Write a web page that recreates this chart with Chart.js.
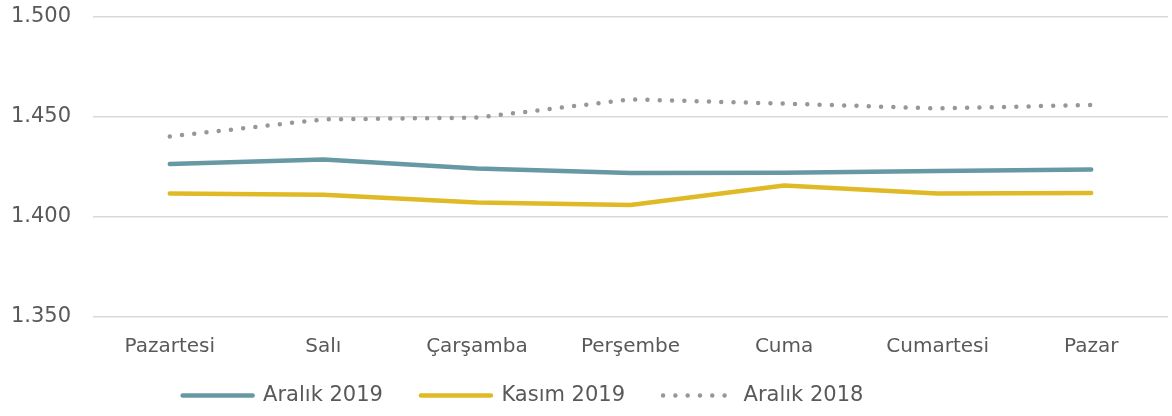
<!DOCTYPE html>
<html>
<head>
<meta charset="utf-8">
<script src="https://cdn.jsdelivr.net/npm/chart.js@4/dist/chart.umd.min.js"></script>
<style>
  html, body { margin: 0; padding: 0; background: #ffffff; }
  #wrap { width: 1172px; height: 416px; position: relative; }
</style>
</head>
<body>
<div id="wrap"><canvas id="c"></canvas></div>
<script>
const categories = ['Pazartesi', 'Salı', 'Çarşamba', 'Perşembe', 'Cuma', 'Cumartesi', 'Pazar'];
const aralik2019 = [1.4265, 1.4288, 1.4243, 1.4220, 1.4221, 1.4230, 1.4238];
const kasim2019 = [1.4118, 1.4111, 1.4072, 1.4060, 1.4158, 1.4118, 1.4120];
const aralik2018 = [1.4403, 1.4488, 1.4497, 1.4588, 1.4567, 1.4543, 1.4560];
const yTicks = [1.35, 1.40, 1.45, 1.50];

const FONT = "'DejaVu Sans', sans-serif";
const TEXT = '#595959';

const legendShift = {
  id: 'legendShift',
  afterLayout(chart) {
    const lg = chart.legend;
    if (lg) { lg.left = -4; lg.right = 1050; lg.top = 347; }
  }
};

new Chart(document.getElementById('c'), {
  type: 'line',
  data: {
    labels: categories,
    datasets: [
      {
        label: 'Aralık 2019',
        data: aralik2019,
        borderColor: '#6799a4',
        backgroundColor: '#6799a4',
        borderWidth: 4.5,
        borderCapStyle: 'round',
        borderJoinStyle: 'round',
        pointRadius: 0,
        tension: 0
      },
      {
        label: 'Kasım 2019',
        data: kasim2019,
        borderColor: '#e0b926',
        backgroundColor: '#e0b926',
        borderWidth: 4.5,
        borderCapStyle: 'round',
        borderJoinStyle: 'round',
        pointRadius: 0,
        tension: 0
      },
      {
        label: 'Aralık 2018',
        data: aralik2018,
        borderColor: '#979797',
        backgroundColor: '#979797',
        borderWidth: 4.5,
        borderDash: [0, 12.3],
        borderCapStyle: 'round',
        borderJoinStyle: 'round',
        pointRadius: 0,
        tension: 0
      }
    ]
  },
  options: {
    responsive: true,
    maintainAspectRatio: false,
    animation: false,
    layout: { padding: { top: 17, right: 4, left: 0, bottom: 0 } },
    plugins: {
      tooltip: { enabled: false },
      legend: {
        position: 'bottom',
        align: 'center',
        maxHeight: 55,
        labels: {
          usePointStyle: true,
          pointStyle: 'line',
          pointStyleWidth: 70,
          boxHeight: 4,
          padding: 38,
          color: TEXT,
          font: { family: FONT, size: 21 },
          generateLabels(chart) {
            const items = Chart.defaults.plugins.legend.labels.generateLabels(chart);
            items.forEach((it) => {
              const ds = chart.data.datasets[it.datasetIndex];
              it.lineWidth = ds.borderWidth;
              it.lineDash = ds.borderDash || [];
              it.lineCap = ds.borderCapStyle;
              it.strokeStyle = ds.borderColor;
              it.fillStyle = ds.borderColor;
            });
            return items;
          }
        }
      }
    },
    scales: {
      x: {
        offset: true,
        grid: { display: false, drawTicks: false, offset: true },
        border: { display: false },
        ticks: {
          color: TEXT,
          padding: 18,
          maxRotation: 0,
          autoSkip: false,
          font: { family: FONT, size: 20 }
        },
        afterFit(axis) { axis.height = 44; }
      },
      y: {
        min: 1.35,
        max: 1.5,
        afterBuildTicks(axis) { axis.ticks = yTicks.map(v => ({ value: v })); },
        grid: { color: '#d9d9d9', lineWidth: 1.5, drawTicks: true, tickLength: 20, tickColor: 'rgba(0,0,0,0)' },
        border: { display: false },
        ticks: {
          color: TEXT,
          padding: 2,
          font: { family: FONT, size: 21 },
          callback: (v) => v.toFixed(3)
        },
        afterFit(axis) { axis.width = 93; }
      }
    }
  },
  plugins: [legendShift]
});
</script>
</body>
</html>
